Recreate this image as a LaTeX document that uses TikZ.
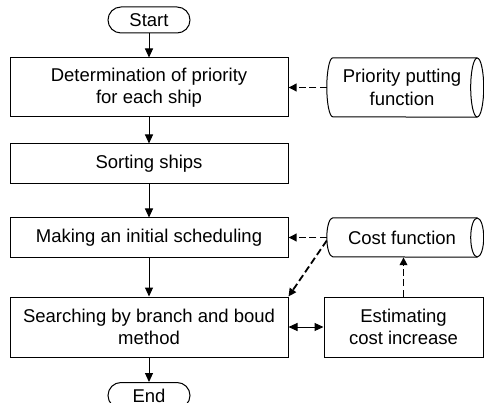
\documentclass[tikz,border=0pt]{standalone}
\usepackage{fontspec}
\setmainfont{Liberation Sans}
\usetikzlibrary{arrows.meta}
\begin{document}
\begin{tikzpicture}[x=1pt,y=1pt,
  every node/.style={inner sep=0pt,align=center,font=\fontsize{18.5}{22.5}\selectfont},
  stepbox/.style={draw,line width=1pt,minimum height=#1},
  mainbox/.style={stepbox=#1,minimum width=278pt},
  term/.style={draw,line width=1pt,rounded corners=13pt,minimum width=82pt,minimum height=26pt},
  store/.style={minimum width=150pt,minimum height=#1},
  flow/.style={line width=1pt,-{Triangle[length=9pt,width=8pt]}},
  dataflow/.style={line width=1.8pt,dash pattern=on 7pt off 3.5pt,-{Triangle[length=8pt,width=7.5pt]}},
  both/.style={line width=1pt,{Triangle[length=9pt,width=8pt]}-{Triangle[length=9pt,width=8pt]}}]
\useasboundingbox (0,0) rectangle (484,-403);

% main flow
\node[term] (start) at (149,-20) {Start};
\node[mainbox=59pt] (b1) at (149,-87.5) {Determination of priority\\for each ship};
\node[mainbox=40pt] (b2) at (149,-164) {Sorting ships};
\node[mainbox=39pt] (b3) at (149,-237.5) {Making an initial scheduling};
\node[mainbox=60pt] (b4) at (149,-327) {Searching by branch and boud\\method};
\node[term] (end) at (149,-395.5) {End};

% side blocks
\node[store=59pt] (prio) at (402,-87.5) {Priority putting\\function};
\node[store=39pt] (cost) at (402,-237.5) {Cost function};
\node[stepbox=60pt,minimum width=159pt] (est) at (403.5,-327) {Estimating\\cost increase};

% horizontal cylinders around the stores
\foreach \c/\r in {prio/29.5,cost/19.5}{
  \draw[line width=1pt] (\c.north east) -- ([xshift=6pt]\c.north west)
     arc[start angle=90,end angle=270,x radius=6pt,y radius=\r pt]
     -- (\c.south east);
  \draw[line width=1pt] (\c.east) ellipse[x radius=6.5pt,y radius=\r pt];
}

% connectors
\draw[flow] (start) -- (b1);
\draw[flow] (b1) -- (b2);
\draw[flow] (b2) -- (b3);
\draw[flow] (b3) -- (b4);
\draw[flow] (b4) -- (end);
\draw[dataflow] (prio.west) -- (b1.east);
\draw[dataflow] (cost.west) -- (b3.east);
\draw[dataflow] ([yshift=-3pt]cost.west) -- (b4.north east);
\draw[dataflow] (est.north) -- (est.north |- cost.south);
\draw[both] (b4.east) -- (est.west);
\end{tikzpicture}
\end{document}
